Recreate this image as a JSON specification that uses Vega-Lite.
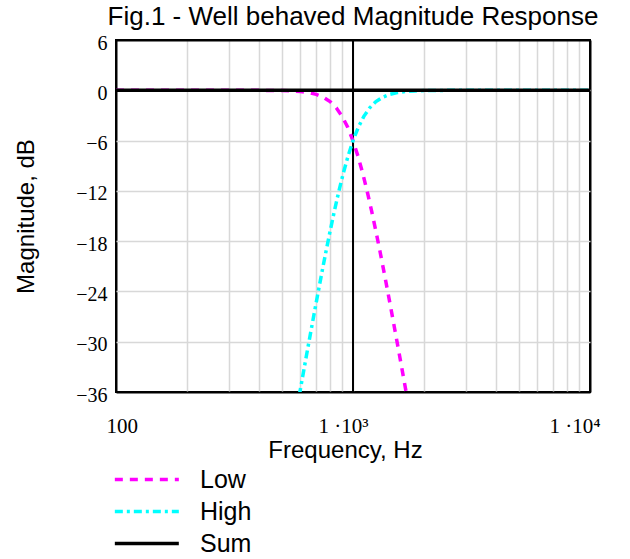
{
  "$schema": "https://vega.github.io/schema/vega-lite/v6.json",
  "width": 474,
  "height": 352,
  "autosize": {"type": "none"},
  "padding": {"left": 116, "top": 40, "right": 40, "bottom": 167},
  "background": "white",
  "view": {"stroke": "black", "strokeWidth": 2},
  "title": {
    "text": "Fig.1 - Well behaved Magnitude Response",
    "font": "Liberation Sans",
    "fontSize": 26,
    "fontWeight": "normal",
    "color": "black",
    "frame": "group",
    "anchor": "middle",
    "offset": 3
  },
  "config": {
    "view": {"stroke": "black", "strokeWidth": 2},
    "legend": {
      "orient": "none",
      "legendX": -3,
      "legendY": 427,
      "direction": "vertical",
      "symbolType": "M-1,0H5",
      "symbolSize": 455,
      "symbolStrokeWidth": 4,
      "labelFont": "Liberation Sans",
      "labelFontSize": 25,
      "labelColor": "black",
      "labelOffset": 62,
      "rowPadding": 6,
      "padding": 0,
      "symbolOffset": 0
    }
  },
  "encoding": {
    "x": {
      "field": "f",
      "type": "quantitative",
      "scale": {"type": "log", "domain": [100, 10000], "nice": false},
      "axis": {
        "title": "Frequency, Hz",
        "titleFont": "Liberation Sans",
        "titleFontSize": 24,
        "titleFontWeight": "normal",
        "titleColor": "black",
        "titleBaseline": "alphabetic",
        "titleY": 65,
        "titleX": 229,
        "values": [100, 200, 300, 400, 500, 600, 700, 800, 900, 1000, 2000, 3000, 4000, 5000, 6000, 7000, 8000, 9000, 10000],
        "labelExpr": "datum.value == 100 ? '100' : datum.value == 1000 ? '1 ·10³' : datum.value == 10000 ? '1 ·10⁴' : ''",
        "labelFont": "Liberation Serif",
        "labelFontSize": 21,
        "labelColor": "black",
        "labelPadding": 23,
        "labelFlush": true,
        "labelFlushOffset": 10,
        "labelOffset": {"condition": {"test": "datum.value == 1000", "value": -10}, "value": 0},
        "labelOverlap": false,
        "ticks": false,
        "tickSize": 0,
        "domain": false,
        "grid": true,
        "gridColor": {"condition": {"test": "datum.value == 100 || datum.value == 10000", "value": "black"}, "value": "#d8d8d8"},
        "gridWidth": {"condition": {"test": "datum.value == 100 || datum.value == 10000", "value": 2}, "value": 1.5}
      }
    }
  },
  "layer": [
    {
      "data": {"values": [{"f": 1000}]},
      "mark": {"type": "rule", "color": "black", "strokeWidth": 2}
    },
    {
      "data": {
        "values": [
          {"f": 100, "dB": 0, "series": "Low"},
          {"f": 200, "dB": 0, "series": "Low"},
          {"f": 300, "dB": -0.001, "series": "Low"},
          {"f": 400, "dB": -0.006, "series": "Low"},
          {"f": 500, "dB": -0.034, "series": "Low"},
          {"f": 550, "dB": -0.072, "series": "Low"},
          {"f": 600, "dB": -0.145, "series": "Low"},
          {"f": 650, "dB": -0.272, "series": "Low"},
          {"f": 700, "dB": -0.487, "series": "Low"},
          {"f": 750, "dB": -0.829, "series": "Low"},
          {"f": 800, "dB": -1.347, "series": "Low"},
          {"f": 850, "dB": -2.093, "series": "Low"},
          {"f": 900, "dB": -3.11, "series": "Low"},
          {"f": 950, "dB": -4.42, "series": "Low"},
          {"f": 1000, "dB": -6.021, "series": "Low"},
          {"f": 1050, "dB": -7.88, "series": "Low"},
          {"f": 1100, "dB": -9.948, "series": "Low"},
          {"f": 1150, "dB": -12.168, "series": "Low"},
          {"f": 1200, "dB": -14.485, "series": "Low"},
          {"f": 1250, "dB": -16.853, "series": "Low"},
          {"f": 1300, "dB": -19.235, "series": "Low"},
          {"f": 1350, "dB": -21.607, "series": "Low"},
          {"f": 1400, "dB": -23.95, "series": "Low"},
          {"f": 1450, "dB": -26.252, "series": "Low"},
          {"f": 1500, "dB": -28.507, "series": "Low"},
          {"f": 1550, "dB": -30.71, "series": "Low"},
          {"f": 1600, "dB": -32.859, "series": "Low"},
          {"f": 1650, "dB": -34.954, "series": "Low"},
          {"f": 1700, "dB": -36.996, "series": "Low"},
          {"f": 1800, "dB": -40.92, "series": "Low"},
          {"f": 555.6, "dB": -40.92, "series": "High"},
          {"f": 588.2, "dB": -36.996, "series": "High"},
          {"f": 606.1, "dB": -34.954, "series": "High"},
          {"f": 625, "dB": -32.859, "series": "High"},
          {"f": 645.2, "dB": -30.71, "series": "High"},
          {"f": 666.7, "dB": -28.507, "series": "High"},
          {"f": 689.7, "dB": -26.252, "series": "High"},
          {"f": 714.3, "dB": -23.95, "series": "High"},
          {"f": 740.7, "dB": -21.607, "series": "High"},
          {"f": 769.2, "dB": -19.235, "series": "High"},
          {"f": 800, "dB": -16.853, "series": "High"},
          {"f": 833.3, "dB": -14.485, "series": "High"},
          {"f": 869.6, "dB": -12.168, "series": "High"},
          {"f": 909.1, "dB": -9.948, "series": "High"},
          {"f": 952.4, "dB": -7.88, "series": "High"},
          {"f": 1000, "dB": -6.021, "series": "High"},
          {"f": 1052.6, "dB": -4.42, "series": "High"},
          {"f": 1111.1, "dB": -3.11, "series": "High"},
          {"f": 1176.5, "dB": -2.093, "series": "High"},
          {"f": 1250, "dB": -1.347, "series": "High"},
          {"f": 1333.3, "dB": -0.829, "series": "High"},
          {"f": 1428.6, "dB": -0.487, "series": "High"},
          {"f": 1538.5, "dB": -0.272, "series": "High"},
          {"f": 1666.7, "dB": -0.145, "series": "High"},
          {"f": 1818.2, "dB": -0.072, "series": "High"},
          {"f": 2000, "dB": -0.034, "series": "High"},
          {"f": 2500, "dB": -0.006, "series": "High"},
          {"f": 3333.3, "dB": -0.001, "series": "High"},
          {"f": 5000, "dB": 0, "series": "High"},
          {"f": 10000, "dB": 0, "series": "High"},
          {"f": 100, "dB": 0, "series": "Sum"},
          {"f": 10000, "dB": 0, "series": "Sum"}
        ]
      },
      "mark": {"type": "line", "clip": true},
      "encoding": {
        "y": {
          "field": "dB",
          "type": "quantitative",
          "scale": {"domain": [-36, 6], "nice": false, "zero": false},
          "axis": {
            "title": "Magnitude, dB",
            "titleFont": "Liberation Sans",
            "titleFontSize": 24,
            "titleFontWeight": "normal",
            "titleColor": "black",
            "titleBaseline": "alphabetic",
            "titleX": -83,
            "values": [-36, -30, -24, -18, -12, -6, 0, 6],
            "labelFont": "Liberation Serif",
            "labelFontSize": 20,
            "labelColor": "black",
            "labelPadding": 9,
            "labelOffset": 3,
            "ticks": false,
            "tickSize": 0,
            "domain": false,
            "grid": true,
            "gridColor": {"condition": {"test": "datum.value == -36 || datum.value == 6", "value": "black"}, "value": "#d8d8d8"},
            "gridWidth": {"condition": {"test": "datum.value == -36 || datum.value == 6", "value": 2}, "value": 1.5}
          }
        },
        "color": {
          "field": "series",
          "type": "nominal",
          "scale": {"domain": ["Low", "High", "Sum"], "range": ["#ff00ff", "#00ffff", "#000000"]},
          "legend": {"title": null}
        },
        "strokeDash": {
          "field": "series",
          "type": "nominal",
          "scale": {"domain": ["Low", "High", "Sum"], "range": [[8, 7], [8, 4, 3, 4], [1, 0]]},
          "legend": {"title": null}
        },
        "strokeWidth": {
          "field": "series",
          "type": "nominal",
          "scale": {"domain": ["Low", "High", "Sum"], "range": [3.5, 3.5, 4.5]},
          "legend": null
        }
      }
    }
  ]
}
